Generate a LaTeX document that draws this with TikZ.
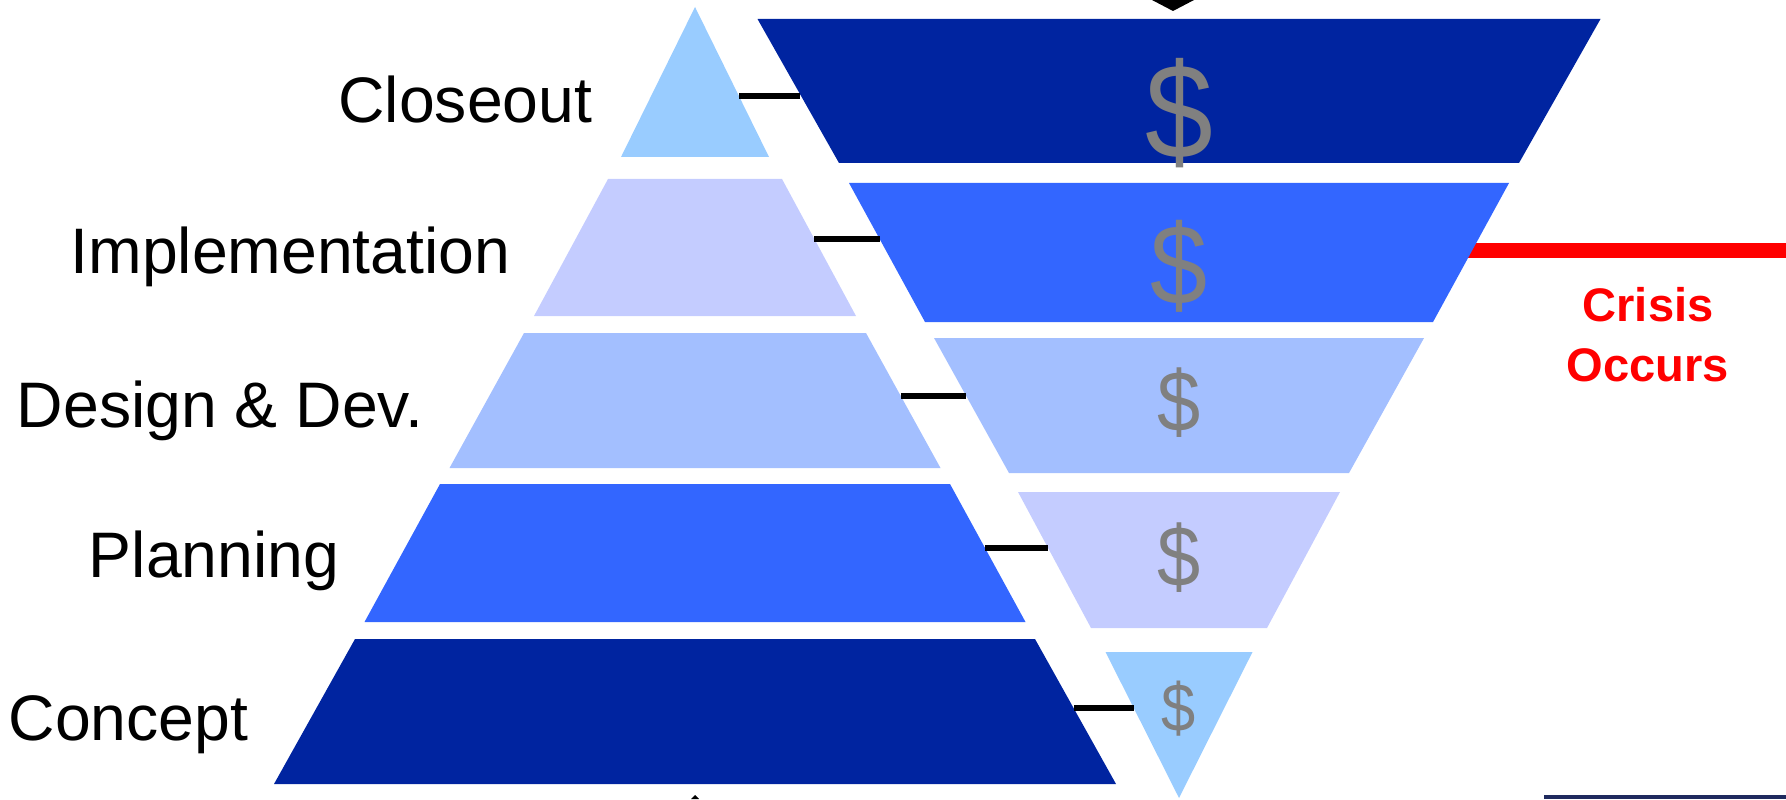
\documentclass[tikz,border=0pt]{standalone}
\usepackage{fontspec}
\setmainfont{Liberation Sans}
\newfontfamily\dollarfont[FakeStretch=0.9]{Liberation Sans}
\usetikzlibrary{positioning}

\definecolor{navy}{HTML}{0024A0}
\definecolor{royal}{HTML}{3366FF}
\definecolor{periwinkle}{HTML}{A3BFFF}
\definecolor{lavender}{HTML}{C4CCFF}
\definecolor{sky}{HTML}{99CCFF}
\definecolor{dollargray}{HTML}{808080}
\definecolor{crisisred}{HTML}{FF0000}
\definecolor{slidebar}{HTML}{1F2A5E}

\begin{document}
\begin{tikzpicture}[x=0.1mm,y=-0.1mm]

\tikzset{phase/.style={font=\fontsize{18.3}{21}\selectfont,anchor=base east,inner sep=0pt},
cost/.style={text=dollargray,inner sep=0pt},
link/.style={draw=black,line width=0.6mm},
alert/.style={text=crisisred,font=\bfseries\fontsize{13.4}{17.1}\selectfont,align=center,inner sep=0pt},
crisisline/.style={draw=crisisred,line width=1.56mm}}

\useasboundingbox (0,0) rectangle (1786,799);

% Crisis line (behind the cost layers)
\coordinate (crisis-start) at (1440,250.5);
\coordinate (crisis-end) at (1786,250.5);
\draw [crisisline] (crisis-start) -- (crisis-end);

% Project phases
\fill [sky] (695,7) -- (769,157) -- (621,157) -- cycle;
\fill [lavender] (608,179) -- (782,179) -- (856,316) -- (534,316) -- cycle;
\fill [periwinkle] (524,333) -- (866,333) -- (940.5,468) -- (449.5,468) -- cycle;
\fill [royal] (440,484) -- (950,484) -- (1025.5,622) -- (364.5,622) -- cycle;
\fill [navy] (355,639) -- (1035,639) -- (1116,784) -- (274,784) -- cycle;

% Cost of change
\fill [navy] (757.5,19) -- (1600.5,19) -- (1519,163) -- (839,163) -- cycle;
\fill [royal] (849,183) -- (1509,183) -- (1433,322) -- (925,322) -- cycle;
\fill [periwinkle] (934,338) -- (1424,338) -- (1349,473) -- (1009,473) -- cycle;
\fill [lavender] (1018,492) -- (1340,492) -- (1267,628) -- (1091,628) -- cycle;
\fill [sky] (1105.5,652) -- (1252.5,652) -- (1179,798) -- cycle;

% Phase labels
\node (closeout) [phase] at (593,123) {Closeout};
\node (implementation) [phase] at (511,273) {Implementation};
\node (design) [phase] at (424,427) {Design \& Dev.};
\node (planning) [phase] at (340,577) {Planning};
\node (concept) [phase] at (249,740) {Concept};

% Dollar signs
\node (cost1) [cost,font=\dollarfont\fontsize{38.5}{40}\selectfont] at (1179,113.5) {\$};
\node (cost2) [cost,font=\dollarfont\fontsize{32.4}{34}\selectfont] at (1179,266.5) {\$};
\node (cost3) [cost,font=\dollarfont\fontsize{24.5}{26}\selectfont] at (1179,403) {\$};
\node (cost4) [cost,font=\dollarfont\fontsize{24.5}{26}\selectfont] at (1179,558) {\$};
\node (cost5) [cost,font=\dollarfont\fontsize{19.4}{21}\selectfont] at (1179,708.5) {\$};

% Connectors between phases and costs
\coordinate (closeout-r) at (739,96);
\coordinate (cost1-l) at (800,96);
\coordinate (implementation-r) at (814,239);
\coordinate (cost2-l) at (880,239);
\coordinate (design-r) at (901,396);
\coordinate (cost3-l) at (966,396);
\coordinate (planning-r) at (985,548);
\coordinate (cost4-l) at (1048,548);
\coordinate (concept-r) at (1074,708);
\coordinate (cost5-l) at (1134,708);
\draw [link] (closeout-r) -- (cost1-l);
\draw [link] (implementation-r) -- (cost2-l);
\draw [link] (design-r) -- (cost3-l);
\draw [link] (planning-r) -- (cost4-l);
\draw [link] (concept-r) -- (cost5-l);

% Crisis label
\node (crisis) [alert,anchor=north] at (1648,287) {Crisis\\Occurs};

% Cut-off arrow tips and slide bar at the edges
\fill [black] (1152,0) -- (1194,0) -- (1173,11) -- cycle;
\fill [black] (691,799) -- (699,799) -- (695,795) -- cycle;
\fill [slidebar] (1544,795) rectangle (1786,799);

\end{tikzpicture}
\end{document}
